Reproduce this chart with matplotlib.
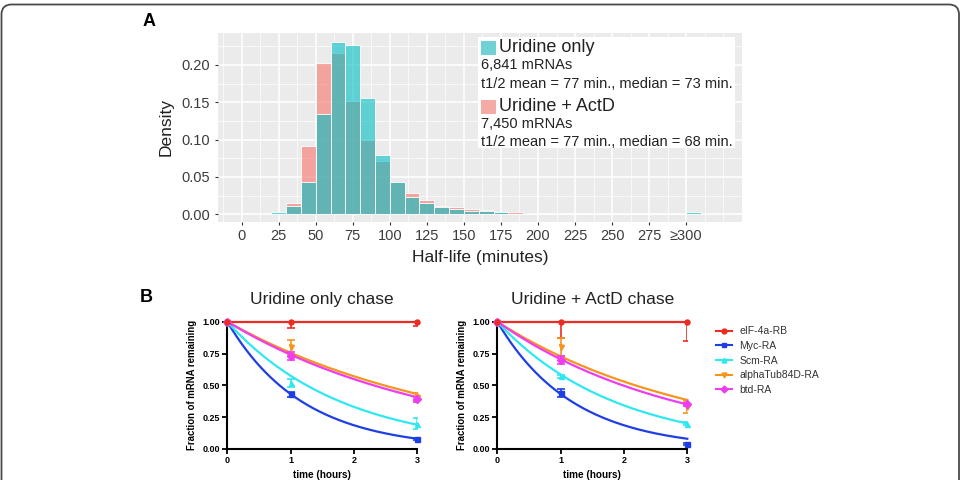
import numpy as np
import matplotlib
matplotlib.use("Agg")
import matplotlib.pyplot as plt
from matplotlib.patches import Rectangle, FancyBboxPatch
from matplotlib.lines import Line2D

plt.rcParams['font.family'] = ['Liberation Sans', 'DejaVu Sans']

# ---- panel A: half-life histogram (bins of 10 min, last bin = >=300)
bin_starts = list(range(20, 310, 10))
uridine_only = [0.003, 0.011, 0.043, 0.134, 0.231, 0.227, 0.155, 0.079, 0.043, 0.0236,
                0.0147, 0.0094, 0.0071, 0.0049, 0.004, 0.003, 0.001, 0.0005, 0, 0,
                0, 0, 0, 0, 0, 0, 0, 0, 0.0035]
uridine_actd = [0, 0.015, 0.092, 0.203, 0.216, 0.151, 0.099, 0.071, 0.043, 0.028,
                0.019, 0.011, 0.0094, 0.0071, 0.0058, 0.0035, 0.003, 0.002, 0.001, 0,
                0, 0, 0.0005, 0, 0, 0, 0, 0, 0.0015]
hist_ticks = [0, 25, 50, 75, 100, 125, 150, 175, 200, 225, 250, 275, 300]
hist_ticklabels = ['0', '25', '50', '75', '100', '125', '150', '175', '200', '225', '250', '275', '≥300']
legend_a = [("Uridine only", "6,841 mRNAs", "t1/2 mean = 77 min., median = 73 min."),
            ("Uridine + ActD", "7,450 mRNAs", "t1/2 mean = 77 min., median = 68 min.")]

# ---- panel B: chase time courses
genes = ['eIF-4a-RB', 'Myc-RA', 'Scm-RA', 'alphaTub84D-RA', 'btd-RA']
times = [0, 1, 3]
only_mean = [[1, 1.00, 1.00], [1, 0.43, 0.08], [1, 0.52, 0.20], [1, 0.80, 0.41], [1, 0.73, 0.39]]
only_err = [[0, 0.05, 0.03], [0, 0.02, 0.01], [0, 0.03, 0.04], [0, 0.06, 0.03], [0, 0.03, 0.02]]
actd_mean = [[1, 1.00, 1.00], [1, 0.44, 0.04], [1, 0.57, 0.20], [1, 0.80, 0.33], [1, 0.70, 0.35]]
actd_err = [[0, 0.13, 0.15], [0, 0.03, 0.01], [0, 0.01, 0.01], [0, 0.07, 0.05], [0, 0.03, 0.01]]
# one-phase decay rate constants (1/h) of the fitted curves
only_k = [0.0, 0.84, 0.553, 0.28, 0.30]
actd_k = [0.0, 0.84, 0.536, 0.318, 0.35]

gene_colors = ['#ec2b22', '#1f3fe6', '#2ee8f0', '#f7941d', '#ee3cee']
gene_markers = ['o', 's', '^', 'v', 'D']

W, H = 961, 480
fig = plt.figure(figsize=(W / 100, H / 100), dpi=100)


def fx(x):
    return x / W


def fy(y):
    return 1 - y / H


# outer rounded frame
bg = fig.add_axes([0, 0, 1, 1], zorder=-5)
bg.set_xlim(0, W)
bg.set_ylim(H, 0)
bg.axis('off')
bg.add_patch(FancyBboxPatch((1.5, 4.5), W - 3.5, H + 30, boxstyle="round,pad=0,rounding_size=10",
                            facecolor='white', edgecolor='#4a4a4a', linewidth=1.3))

# ---------------- panel A
axA = fig.add_axes([fx(218), fy(221.7), 523.7 / W, 189 / H])
axA.set_facecolor('#EBEBEB')
axA.bar(bin_starts, uridine_actd, width=10, align='edge', color=(248/255, 118/255, 109/255, 0.62),
        edgecolor='white', linewidth=0.6, zorder=2)
axA.bar(bin_starts, uridine_only, width=10, align='edge', color=(0, 191/255, 196/255, 0.6),
        edgecolor='white', linewidth=0.6, zorder=3)
axA.set_xlim(-16, 336)
axA.set_ylim(-0.0099, 0.243)
axA.set_xticks(hist_ticks)
axA.set_xticklabels(hist_ticklabels)
axA.set_xticks(np.arange(-12.5, 340, 12.5), minor=True)
axA.set_yticks([0, 0.05, 0.10, 0.15, 0.20])
axA.set_yticklabels(['0.00', '0.05', '0.10', '0.15', '0.20'])
axA.set_yticks(np.arange(0.025, 0.24, 0.05), minor=True)
axA.grid(True, which='major', color='white', linewidth=1.1, zorder=0)
axA.grid(True, which='minor', color='white', linewidth=0.5, zorder=0)
axA.set_axisbelow(True)
for s in axA.spines.values():
    s.set_visible(False)
axA.tick_params(which='major', length=2.5, color='#333333', labelsize=10.5, labelcolor='#3d3d3d', pad=3)
axA.tick_params(which='minor', length=0)
axA.set_xlabel('Half-life (minutes)', fontsize=12.5, color='#222222', labelpad=5)
axA.set_ylabel('Density', fontsize=12.5, color='#222222', labelpad=6)

# legend box of panel A
fig.patches.append(Rectangle((fx(478), fy(148)), (735 - 478) / W, (148 - 37) / H,
                             transform=fig.transFigure, facecolor='white', edgecolor='none', zorder=4))
sq_col = ['#6fd3d6', '#f4aaa5']
for i, (name, count, stats) in enumerate(legend_a):
    y0 = 48 + i * 58.5
    fig.patches.append(Rectangle((fx(481), fy(y0 + 7)), 15 / W, 14 / H, transform=fig.transFigure,
                                 facecolor=sq_col[i], edgecolor='none', zorder=5))
    fig.text(fx(499), fy(y0), name, fontsize=13, color='#222222', va='center', ha='left', zorder=6)
    fig.text(fx(481), fy(y0 + 17), count, fontsize=10.5, color='#222222', va='center', ha='left', zorder=6)
    fig.text(fx(481), fy(y0 + 35.5), stats, fontsize=10.5, color='#222222', va='center', ha='left', zorder=6)

fig.text(fx(143), fy(22), 'A', fontsize=13, fontweight='bold', va='center', ha='left')
fig.text(fx(140), fy(297), 'B', fontsize=13, fontweight='bold', va='center', ha='left')

# ---------------- panel B
t_fit = np.linspace(0, 3, 200)


def chase(ax, means, errs, ks, title):
    for i in range(len(genes)):
        ax.plot(t_fit, np.exp(-ks[i] * t_fit), color=gene_colors[i], linewidth=1.6,
                clip_on=False, zorder=3 + (i == 0) * 2)
        ax.errorbar(times, means[i], yerr=errs[i], fmt='none', ecolor=gene_colors[i],
                    elinewidth=1.2, capsize=3, capthick=1.2, zorder=4)
        ax.plot(times, means[i], linestyle='none', marker=gene_markers[i], markersize=3.6,
                color=gene_colors[i], clip_on=False, zorder=6 - (i > 0))
    ax.set_xlim(0, 3)
    ax.set_ylim(0, 1)
    ax.set_xticks([0, 1, 2, 3])
    ax.set_yticks([0, 0.25, 0.5, 0.75, 1.0])
    ax.set_yticklabels(['0.00', '0.25', '0.50', '0.75', '1.00'])
    for s in ['top', 'right']:
        ax.spines[s].set_visible(False)
    for s in ['left', 'bottom']:
        ax.spines[s].set_linewidth(1.5)
    ax.tick_params(direction='out', length=3.5, width=1.3, labelsize=6.5, pad=1.5)
    for lab in ax.get_xticklabels() + ax.get_yticklabels():
        lab.set_fontweight('bold')
    ax.set_xlabel('time (hours)', fontsize=7.2, fontweight='bold', labelpad=4)
    ax.set_ylabel('Fraction of mRNA remaining', fontsize=6.9, fontweight='bold', labelpad=4)
    ax.set_title(title, fontsize=12.5, color='#222222', pad=13)


axL = fig.add_axes([fx(227.3), fy(449), 190 / W, 127.3 / H])
chase(axL, only_mean, only_err, only_k, 'Uridine only chase')
axR = fig.add_axes([fx(497.3), fy(449), 190 / W, 127.3 / H])
chase(axR, actd_mean, actd_err, actd_k, 'Uridine + ActD chase')

handles = [Line2D([0], [0], color=gene_colors[i], marker=gene_markers[i], markersize=3.5, linewidth=1.5)
           for i in range(len(genes))]
leg = fig.legend(handles, genes, loc='upper left', bbox_to_anchor=(fx(712), fy(322)), frameon=False,
                 fontsize=7.5, handlelength=1.5, handletextpad=0.7, labelspacing=0.45, borderaxespad=0)
for txt in leg.get_texts():
    txt.set_color('#333333')

fig.savefig('out.png', dpi=100)
